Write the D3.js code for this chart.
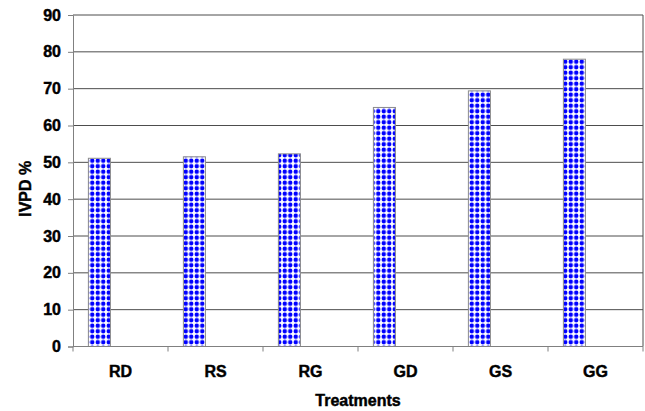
<!DOCTYPE html>
<html>
<head>
<meta charset="utf-8">
<script src="https://cdn.jsdelivr.net/npm/d3@7"></script>
<style>
  body { margin:0; background:#fff; }
  text { font-family: Arial, "Liberation Sans", sans-serif; font-weight:bold; fill:#000; stroke:#000; stroke-width:0.45px; }
</style>
</head>
<body>
<div id="chart"></div>
<script>
// IVPD % per treatment
const treatments = ["RD", "RS", "RG", "GD", "GS", "GG"];
const ivpd = [51.1, 51.5, 52.3, 64.9, 69.4, 78.0];
const yTicks = [0, 10, 20, 30, 40, 50, 60, 70, 80, 90];

const W = 645, H = 411;
const m = { top:15, right:2, bottom:64.5, left:73 };
const iw = W - m.left - m.right, ih = H - m.top - m.bottom;

const svg = d3.select("#chart").append("svg").attr("width", W).attr("height", H);

// dotted fill like the excel pattern
const defs = svg.append("defs");
const ps = 5.5;
const pat = defs.append("pattern")
  .attr("id","dots").attr("patternUnits","userSpaceOnUse")
  .attr("width",ps).attr("height",ps);
pat.append("rect").attr("width",ps).attr("height",ps).attr("fill","#fff");
pat.append("circle").attr("cx",ps/2).attr("cy",ps/2).attr("r",2.25).attr("fill","#0000ff");

const g = svg.append("g").attr("transform", `translate(${m.left},${m.top})`);

const x = d3.scaleBand().domain(treatments).range([0, iw]);
const y = d3.scaleLinear().domain([0, 90]).range([ih, 0]);

// gridlines
g.selectAll("line.grid").data(yTicks.slice(1)).enter().append("line")
  .attr("x1",0).attr("x2",iw)
  .attr("y1",d=>y(d)).attr("y2",d=>y(d))
  .attr("stroke","#4d4d4d").attr("stroke-width",1);

// right border
g.append("line").attr("x1",iw).attr("x2",iw).attr("y1",0).attr("y2",ih)
  .attr("stroke","#4d4d4d");

// bars sit in the left part of each band (second series is empty)
g.selectAll("rect.bar").data(ivpd).enter().append("rect")
  .attr("x",(d,i)=> x(treatments[i]) + x.bandwidth()*0.162)
  .attr("width", x.bandwidth()*0.232)
  .attr("y", d=>y(d))
  .attr("height", d=>ih - y(d))
  .attr("fill","url(#dots)")
  .attr("stroke","#8c8c8c").attr("stroke-width",1);

// y axis
const gy = g.append("g").call(d3.axisLeft(y).tickValues(yTicks).tickSize(5).tickPadding(7));
gy.select(".domain").attr("stroke","#808080");
gy.selectAll(".tick line").attr("stroke","#808080");
gy.selectAll(".tick text").style("font-size","16px").attr("font-family",null).attr("fill","#000");

// x axis: ticks between categories
const gx = g.append("g").attr("transform",`translate(0,${ih})`);
gx.append("line").attr("x1",0).attr("x2",iw).attr("stroke","#808080");
gx.selectAll("line.tk").data(treatments).enter().append("line")
  .attr("x1",d=>x(d)).attr("x2",d=>x(d)).attr("y1",0).attr("y2",5)
  .attr("stroke","#808080");
gx.append("line").attr("x1",iw).attr("x2",iw).attr("y1",0).attr("y2",5).attr("stroke","#808080");
gx.selectAll("text").data(treatments).enter().append("text")
  .attr("x",d=>x(d)+x.bandwidth()/2).attr("y",30.5)
  .attr("text-anchor","middle").style("font-size","16px").text(d=>d);

g.append("text").attr("x",iw/2).attr("y",ih+59)
  .attr("text-anchor","middle").style("font-size","16px").text("Treatments");
g.append("text").attr("transform","rotate(-90)")
  .attr("x",-(ih/2+8)).attr("y",-42)
  .attr("text-anchor","middle").style("font-size","16px").text("IVPD %");
</script>
</body>
</html>
